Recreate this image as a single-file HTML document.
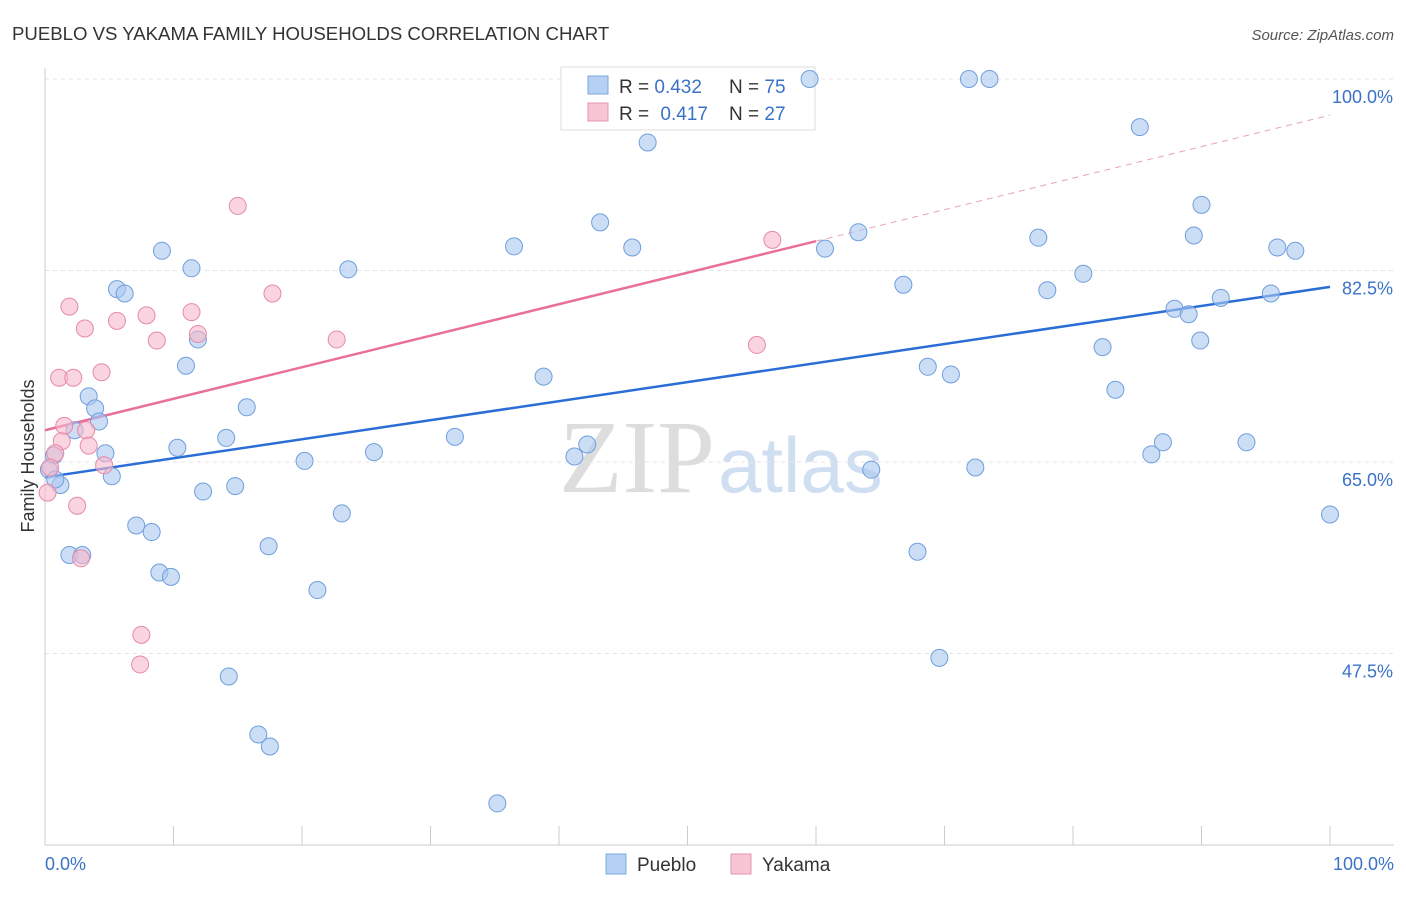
<!DOCTYPE html>
<html><head><meta charset="utf-8"><style>
body{margin:0;background:#fff;font-family:"Liberation Sans",sans-serif;}
</style></head><body>
<svg id="chart" width="1406" height="892" xmlns="http://www.w3.org/2000/svg">
<text x="12" y="40" font-size="18.6" fill="#333">PUEBLO VS YAKAMA FAMILY HOUSEHOLDS CORRELATION CHART</text>
<text x="1394" y="40" font-size="15" fill="#555" font-style="italic" text-anchor="end">Source: ZipAtlas.com</text>
<text x="715" y="492" font-size="104" fill="#ddd" font-family="Liberation Serif,serif" text-anchor="end">ZIP</text>
<text x="718" y="492" font-size="78" fill="#d0def2">atlas</text>
<g id="grid"></g><g id="axes"></g>
<g>
<rect x="561" y="67" width="254" height="63" fill="#fff" stroke="#ddd"/>
<rect x="588" y="76" width="20" height="18" fill="#b5d0f2" stroke="#7aa7de"/>
<text x="619" y="93" font-size="19" fill="#333">R = <tspan fill="#3a72c8">0.432</tspan><tspan x="729">N = </tspan><tspan fill="#3a72c8">75</tspan></text>
<rect x="588" y="103" width="20" height="18" fill="#f8c5d4" stroke="#e993ae"/>
<text x="619" y="120" font-size="19" fill="#333">R = <tspan fill="#3a72c8" dx="6">0.417</tspan><tspan x="729">N = </tspan><tspan fill="#3a72c8">27</tspan></text>
</g>
<g id="lines"></g><g id="pts"></g>
<text transform="translate(34,456) rotate(-90)" font-size="18" fill="#333" text-anchor="middle">Family Households</text>
<text x="45" y="870" font-size="18" fill="#3a72c8">0.0%</text>
<text x="1394" y="870" font-size="18" fill="#3a72c8" text-anchor="end">100.0%</text>
<g>
<rect x="606" y="854" width="20" height="20" fill="#b5d0f2" stroke="#7aa7de"/>
<text x="637" y="871" font-size="19" fill="#333">Pueblo</text>
<rect x="731" y="854" width="20" height="20" fill="#f8c5d4" stroke="#e993ae"/>
<text x="762" y="871" font-size="19" fill="#333">Yakama</text>
</g>
</svg>
<script>
const yTicks=[100,82.5,65,47.5];
const xTicks=[0,10,20,30,40,50,60,70,80,90,100];
const puebloX=[59.5,71.9,73.5,85.2,46.9,90.0,43.2,89.4,63.3,36.5,45.7,95.9,97.3,60.7,77.3,9.1,11.4,23.6,80.8,66.8,78.0,5.6,6.2,91.5,95.4,87.9,89.0,11.9,89.9,82.3,10.97,68.7,70.5,38.8,83.3,3.4,3.9,15.7,4.2,2.3,14.1,31.9,87.0,93.5,42.2,10.3,41.2,25.6,86.1,4.7,0.7,20.2,64.3,72.4,0.3,5.2,1.2,0.8,14.8,12.3,23.1,100,7.1,8.3,17.4,1.9,2.9,67.9,8.9,9.8,21.2,69.6,14.3,16.6,17.5,35.2];
const puebloY=[100,100,100,95.6,94.2,88.5,86.9,85.7,86.0,84.7,84.6,84.6,84.3,84.5,85.5,84.3,82.7,82.6,82.2,81.2,80.7,80.8,80.4,80.0,80.4,79.0,78.5,76.2,76.1,75.5,73.8,73.7,73.0,72.8,71.6,71.0,69.9,70.0,68.7,67.9,67.2,67.3,66.8,66.8,66.6,66.3,65.5,65.9,65.7,65.8,65.6,65.1,64.3,64.5,64.3,63.7,62.9,63.4,62.8,62.3,60.3,60.2,59.2,58.6,57.3,56.5,56.5,56.8,54.9,54.5,53.3,47.1,45.4,40.1,39.0,33.8];
const yakamaX=[15.0,56.6,17.7,1.9,11.4,7.9,5.6,3.1,11.9,8.7,22.7,55.4,4.4,1.1,2.2,1.5,3.2,1.3,3.4,0.8,4.6,0.4,0.2,2.5,2.8,7.5,7.4];
const yakamaY=[88.4,85.3,80.4,79.2,78.7,78.4,77.9,77.2,76.7,76.1,76.2,75.7,73.2,72.7,72.7,68.3,67.9,66.9,66.5,65.8,64.7,64.5,62.2,61.0,56.2,49.2,46.5];
const puebloTrend=[63.6,81.0];
const yakamaTrend=[67.9,96.7];
const yakamaSolidEnd=60;
const NS="http://www.w3.org/2000/svg";
const X=v=>45+v/100*1285;
const Y=v=>462-(v-65)/17.5*191.5;
function mk(t,a,p){const e=document.createElementNS(NS,t);for(const k in a)e.setAttribute(k,a[k]);document.getElementById(p).appendChild(e);return e;}
yTicks.forEach(t=>{
 const l=mk('line',{x1:45,x2:1394,y1:Y(t),y2:Y(t),stroke:'#e4e4e4','stroke-dasharray':'4,4'},'grid');
 
 
 const tx=mk('text',{x:1393,y:Y(t)+24,'font-size':18,fill:'#3a72c8','text-anchor':'end'},'grid');
 tx.textContent=t.toFixed(1)+'%';
 
 
});
mk('line',{x1:45,x2:45,y1:68,y2:845,stroke:'#ccc'},'axes');
mk('line',{x1:45,x2:1394,y1:845,y2:845,stroke:'#ccc'},'axes');
xTicks.forEach(t=>{
 const l=mk('line',{x1:X(t),x2:X(t),y1:826,y2:845,stroke:'#ccc'},'axes');
 
 
});
const tb=(x,tr)=>tr[0]+(tr[1]-tr[0])*x/100;
const pl=mk('line',{x1:X(0),y1:Y(tb(0,puebloTrend)),x2:X(100),y2:Y(tb(100,puebloTrend)),stroke:'#2a6dd6','stroke-width':2.5},'lines');


const yl=mk('line',{x1:X(0),y1:Y(tb(0,yakamaTrend)),x2:X(yakamaSolidEnd),y2:Y(tb(yakamaSolidEnd,yakamaTrend)),stroke:'#e8709a','stroke-width':2.5},'lines');


const yd=mk('line',{x1:X(yakamaSolidEnd),y1:Y(tb(yakamaSolidEnd,yakamaTrend)),x2:X(100),y2:Y(tb(100,yakamaTrend)),stroke:'#e8a0b8','stroke-width':1,'stroke-dasharray':'6,5'},'lines');


puebloX.forEach((x,i)=>{
 const c=mk('circle',{cx:X(x),cy:Y(puebloY[i]),r:8.5,fill:'rgba(170,200,240,0.6)',stroke:'#6e9fdc','stroke-width':1},'pts');
 
 
});
yakamaX.forEach((x,i)=>{
 const c=mk('circle',{cx:X(x),cy:Y(yakamaY[i]),r:8.5,fill:'rgba(246,184,204,0.6)',stroke:'#e68aa8','stroke-width':1},'pts');
 
 
});
</script>
</body></html>
